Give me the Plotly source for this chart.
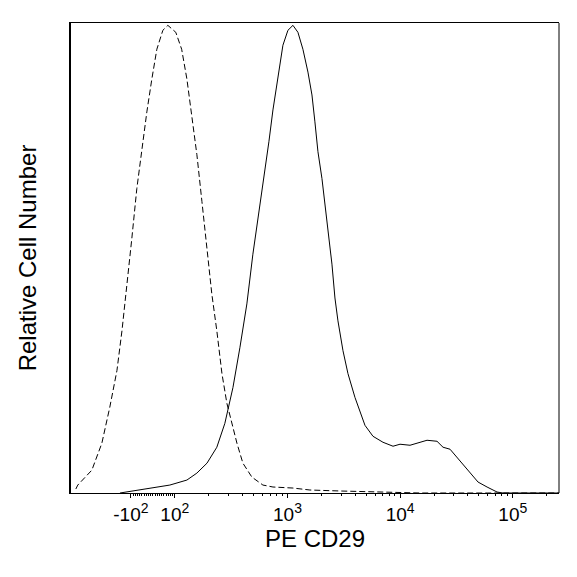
import numpy as np
import plotly.graph_objects as go

# ---- display scale (biexponential-like: linear within +/-100, log beyond) ----
LIN_LIMIT = 100.0
LIN_WIDTH = 0.195  # decades occupied by 0..100


def logicle(v):
    v = np.asarray(v, dtype=float)
    a = np.abs(v)
    return np.sign(v) * np.where(
        a <= LIN_LIMIT,
        LIN_WIDTH * a / LIN_LIMIT,
        LIN_WIDTH + np.log10(np.maximum(a, LIN_LIMIT) / LIN_LIMIT),
    )


# ---- data: isotype control (dashed) ----
iso_x = [-308, -296, -222, -181, -154, -133, -120, -109, -95.6, -72.9, -50.1, -27.3,
         -4.6, 18.2, 45.5, 68.3, 102, 115, 128, 142, 157, 174, 193, 213, 236, 262,
         290, 321, 356, 402, 483, 605, 743, 1118, 1582, 2922, 6620, 15000, 60000, 257000]
iso_y = [0.85, 1.70, 4.89, 10.64, 18.30, 26.17, 34.68, 43.83, 54.47, 65.11, 73.62, 81.49,
         88.51, 94.89, 98.94, 100.0, 98.51, 94.89, 88.51, 80.85, 72.34, 62.34, 52.34, 42.55,
         34.68, 25.53, 19.15, 14.89, 10.64, 6.38, 3.40, 1.70, 1.28, 1.06, 0.64, 0.43, 0.21,
         0.0, 0.0, 0.0]

# ---- data: PE CD29 stained (solid) ----
cd29_x = [-125, 0, 77.4, 128, 157, 193, 236, 278, 328, 378, 436, 493, 569, 631, 684, 743,
          823, 911, 1009, 1118, 1238, 1371, 1519, 1649, 1752, 1864, 2023, 2150, 2240, 2481,
          2638, 2805, 3108, 3442, 3972, 4400, 4874, 5739, 7040, 8640, 9970, 12230, 14410,
          17320, 21240, 24020, 27720, 31980, 36150, 41730, 49130, 59060, 72440, 81890, 257000]
cd29_y = [0.0, 1.06, 1.70, 2.77, 4.26, 6.38, 9.79, 14.89, 22.55, 31.06, 40.43, 51.06, 61.28,
          68.72, 75.11, 81.91, 89.36, 95.74, 98.94, 100.0, 98.51, 94.89, 90.0, 85.11, 79.36,
          72.98, 67.23, 61.70, 57.45, 48.94, 41.70, 36.81, 30.43, 25.53, 20.43, 17.66, 14.47,
          12.13, 10.85, 10.0, 10.43, 10.21, 10.64, 11.28, 11.06, 9.79, 9.36, 7.66, 5.96, 4.26,
          2.34, 1.28, 0.21, 0.0, 0.0]

# ---- axis ticks ----
major_vals = [-100, 100, 1000, 10000, 100000]
major_base = ["-10", "10", "10", "10", "10"]
major_exp = ["2", "2", "3", "4", "5"]
minor_vals = (list(range(-90, 100, 10))
              + [200, 300, 400, 500, 600, 700, 800, 900]
              + [2000, 3000, 4000, 5000, 6000, 7000, 8000, 9000]
              + [20000, 30000, 40000, 50000, 60000, 70000, 80000, 90000]
              + [200000])
x_min, x_max = -340, 257000

FONT = "Liberation Sans, Arial, sans-serif"
major_text = [f"{b}<sup><span style='font-size:14px'>{e}</span></sup>"
              for b, e in zip(major_base, major_exp)]

fig = go.Figure()
fig.add_trace(go.Scatter(x=logicle(iso_x), y=iso_y, mode="lines",
                         line=dict(color="black", width=1, dash="6px,3px"),
                         hoverinfo="skip"))
fig.add_trace(go.Scatter(x=logicle(cd29_x), y=cd29_y, mode="lines",
                         line=dict(color="black", width=1),
                         hoverinfo="skip"))

fig.update_layout(
    width=569, height=569,
    margin=dict(l=63, r=18, t=15, b=84),
    paper_bgcolor="white", plot_bgcolor="white",
    showlegend=False,
    font=dict(family=FONT, color="black"),
    xaxis=dict(
        range=[float(logicle(x_min)), float(logicle(x_max))],
        tickmode="array",
        tickvals=list(logicle(major_vals)),
        ticktext=major_text,
        ticks="outside", ticklen=4, tickwidth=1, tickcolor="black",
        minor=dict(tickmode="array", tickvals=list(logicle(minor_vals)),
                   ticks="outside", ticklen=2, tickwidth=1, tickcolor="black",
                   showgrid=False),
        tickfont=dict(size=19, family=FONT, color="black"),
        showline=True, linecolor="black", linewidth=1, mirror=True,
        showgrid=False, zeroline=False,
        title=dict(text="PE CD29", font=dict(size=24, family=FONT, color="black"),
                   standoff=2),
    ),
    yaxis=dict(
        range=[0, 100.5],
        showticklabels=False, ticks="",
        showline=True, linecolor="black", linewidth=2, mirror=False,
        showgrid=False, zeroline=False,
        title=dict(text="Relative Cell Number",
                   font=dict(size=24, family=FONT, color="black"), standoff=26),
    ),
    shapes=[dict(type="line", xref="paper", yref="paper", x0=1, x1=1, y0=0, y1=1,
                 line=dict(color="black", width=1))],
)

fig.write_html("out.html")
